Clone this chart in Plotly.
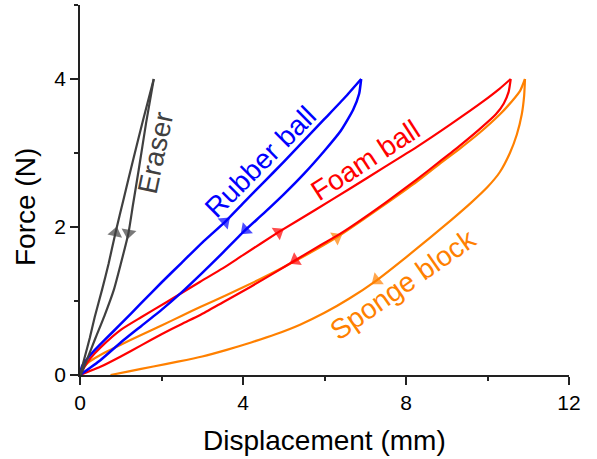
import plotly.graph_objects as go

# Force-displacement loops for four soft objects.
# Loading branches run from the origin up to the peak, unloading branches run back down.
eraser_load_x = [0, 0.12, 0.24, 0.36, 0.54, 0.70, 0.87, 1.08, 1.30, 1.55, 1.81]
eraser_load_y = [0, 0.25, 0.50, 0.78, 1.15, 1.50, 1.92, 2.40, 2.90, 3.45, 4.00]
eraser_unload_x = [1.81, 1.62, 1.44, 1.30, 1.19, 1.00, 0.83, 0.60, 0.38, 0.18, 0.02]
eraser_unload_y = [4.00, 3.40, 2.77, 2.30, 1.92, 1.50, 1.15, 0.80, 0.50, 0.22, 0.0]

rubber_load_x = [0, 0.05, 0.3, 0.6, 1.0, 1.5, 2.0, 2.5, 3.0, 3.56, 4.0, 4.5, 5.0, 5.5, 6.0, 6.5, 6.9]
rubber_load_y = [0, 0.12, 0.30, 0.47, 0.69, 0.97, 1.25, 1.52, 1.79, 2.07, 2.32, 2.60, 2.88, 3.17, 3.46, 3.75, 4.00]
rubber_unload_x = [6.9, 6.85, 6.7, 6.4, 6.0, 5.5, 5.0, 4.5, 4.06, 3.5, 3.0, 2.5, 2.0, 1.5, 1.0, 0.5, 0]
rubber_unload_y = [4.00, 3.80, 3.58, 3.30, 3.03, 2.72, 2.44, 2.18, 1.96, 1.65, 1.38, 1.12, 0.88, 0.66, 0.44, 0.20, 0]

foam_load_x = [0, 0.1, 0.26, 0.5, 1.0, 1.5, 2.14, 2.95, 3.5, 4.0, 4.87, 5.8, 6.63, 7.5, 8.26, 9.1, 9.9, 10.3, 10.57]
foam_load_y = [0, 0.10, 0.23, 0.37, 0.61, 0.78, 0.99, 1.26, 1.44, 1.62, 1.93, 2.24, 2.52, 2.82, 3.08, 3.39, 3.70, 3.87, 4.00]
foam_unload_x = [10.57, 10.52, 10.4, 10.2, 9.8, 9.3, 8.84, 8.26, 7.5, 6.8, 6.3, 5.89, 5.28, 4.8, 4.18, 3.5, 2.95, 2.5, 2.0, 1.5, 1.0, 0.5, 0]
foam_unload_y = [4.00, 3.83, 3.67, 3.52, 3.32, 3.09, 2.89, 2.64, 2.33, 2.06, 1.88, 1.75, 1.55, 1.39, 1.19, 0.98, 0.81, 0.69, 0.55, 0.40, 0.25, 0.11, 0]

sponge_load_x = [0, 0.08, 0.26, 0.6, 1.0, 1.5, 2.0, 2.5, 2.95, 3.6, 4.4, 5.28, 6.3, 7.0, 7.6, 8.26, 8.84, 9.3, 9.8, 10.3, 10.6, 10.8, 10.92]
sponge_load_y = [0, 0.10, 0.19, 0.30, 0.41, 0.54, 0.67, 0.80, 0.92, 1.08, 1.29, 1.54, 1.86, 2.12, 2.35, 2.61, 2.86, 3.05, 3.27, 3.52, 3.70, 3.84, 4.00]
sponge_unload_x = [10.92, 10.9, 10.84, 10.72, 10.55, 10.3, 10.0, 9.6, 9.1, 8.6, 8.0, 7.28, 6.6, 6.0, 5.4, 4.8, 4.2, 3.6, 3.0, 2.4, 1.8, 1.2, 0.75]
sponge_unload_y = [4.00, 3.78, 3.52, 3.25, 3.00, 2.74, 2.54, 2.33, 2.09, 1.86, 1.59, 1.28, 1.03, 0.84, 0.68, 0.55, 0.44, 0.34, 0.25, 0.18, 0.115, 0.05, 0.0]

# Index of the point on each branch that carries a direction arrow
eraser_load_arrow = 6
eraser_unload_arrow = 4
rubber_load_arrow = 9
rubber_unload_arrow = 8
foam_load_arrow = 10
foam_unload_arrow = 12
sponge_load_arrow = 12
sponge_unload_arrow = 11

x_ticks = [0, 4, 8, 12]
y_ticks = [0, 2, 4]

GRAY = "#404040"
BLUE = "#0000ff"
RED = "#ff0000"
ORANGE = "#ff8000"
AXIS = "#222222"
FONT = "Arial, Liberation Sans, sans-serif"

fig = go.Figure()


def add_branch(xs, ys, color, arrow_idx, width=2.2):
    fig.add_trace(go.Scatter(
        x=xs, y=ys, mode="lines",
        line=dict(color=color, width=width, shape="spline", smoothing=0.5),
        hoverinfo="skip",
    ))
    # Arrowhead oriented along the curve, from the preceding point
    fig.add_trace(go.Scatter(
        x=[xs[arrow_idx - 1], xs[arrow_idx]],
        y=[ys[arrow_idx - 1], ys[arrow_idx]],
        mode="markers",
        marker=dict(symbol="triangle-up", size=[0, 13], color=color,
                    angleref="previous", line=dict(width=0)),
        hoverinfo="skip",
    ))


# Sponge first so the foam ball line sits on top where they overlap
add_branch(sponge_load_x, sponge_load_y, ORANGE, sponge_load_arrow)
add_branch(sponge_unload_x, sponge_unload_y, ORANGE, sponge_unload_arrow)
add_branch(foam_load_x, foam_load_y, RED, foam_load_arrow)
add_branch(foam_unload_x, foam_unload_y, RED, foam_unload_arrow)
add_branch(rubber_load_x, rubber_load_y, BLUE, rubber_load_arrow, 2.5)
add_branch(rubber_unload_x, rubber_unload_y, BLUE, rubber_unload_arrow, 2.5)
add_branch(eraser_load_x, eraser_load_y, GRAY, eraser_load_arrow, 2.2)
add_branch(eraser_unload_x, eraser_unload_y, GRAY, eraser_unload_arrow, 2.2)

labels = [
    ("Eraser", 1.84, 3.0, -78, GRAY),
    ("Rubber ball", 4.44, 2.88, -45, BLUE),
    ("Foam ball", 7.0, 2.9, -33, RED),
    ("Sponge block", 7.93, 1.22, -35, ORANGE),
]
for text, x, y, ang, col in labels:
    fig.add_annotation(x=x, y=y, xref="x", yref="y", text=text, showarrow=False,
                       textangle=ang, xanchor="center", yanchor="middle",
                       font=dict(family=FONT, size=28, color=col))

# Axis titles
fig.add_annotation(x=0.5, y=-0.178, xref="paper", yref="paper", text="Displacement (mm)",
                   showarrow=False, xanchor="center", yanchor="middle",
                   font=dict(family=FONT, size=28, color="black"))
fig.add_annotation(x=-0.1125, y=0.454, xref="paper", yref="paper", text="Force (N)",
                   showarrow=False, textangle=-90, xanchor="center", yanchor="middle",
                   font=dict(family=FONT, size=28, color="black"))

axis_common = dict(
    showgrid=False, zeroline=False, showline=True, linecolor=AXIS, linewidth=1.5,
    ticks="outside", ticklen=8, tickwidth=1.5, tickcolor=AXIS,
    tickfont=dict(family=FONT, size=21, color="black"),
)
fig.update_xaxes(range=[0, 12], tickvals=x_ticks,
                 minor=dict(tickvals=[2, 6, 10], ticks="outside", ticklen=4,
                            tickwidth=1.5, tickcolor=AXIS, showgrid=False),
                 **axis_common)
fig.update_yaxes(range=[0, 5], tickvals=y_ticks,
                 minor=dict(tickvals=[1, 3, 5], ticks="outside", ticklen=4,
                            tickwidth=1.5, tickcolor=AXIS, showgrid=False),
                 **axis_common)

fig.update_layout(
    width=597, height=459,
    margin=dict(l=80, r=28, t=5, b=84),
    plot_bgcolor="white", paper_bgcolor="white",
    showlegend=False,
    font=dict(family=FONT),
)

fig.write_html("out.html")
